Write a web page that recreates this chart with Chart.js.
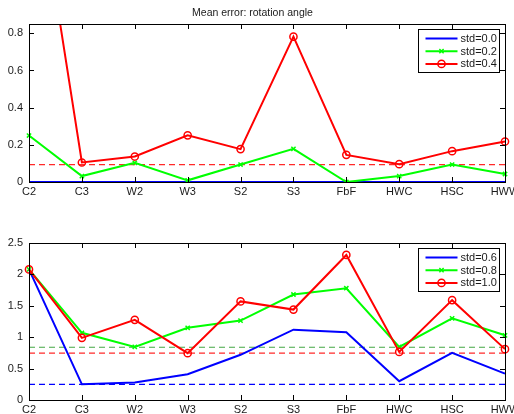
<!DOCTYPE html>
<html>
<head>
<meta charset="utf-8">
<script src="https://cdn.jsdelivr.net/npm/chart.js@4.4.1/dist/chart.umd.min.js"></script>
<style>
  body { margin: 0; background: #fff; }
  #wrap { position: relative; width: 514px; height: 414px; }
  canvas { position: absolute; left: 0; }
  #topChart { top: 0; }
  #bottomChart { top: 207px; }
</style>
</head>
<body>
<div id="wrap">
  <canvas id="topChart" width="514" height="207"></canvas>
  <canvas id="bottomChart" width="514" height="207"></canvas>
</div>
<script>
// === data ===
const categories = ["C2", "C3", "W2", "W3", "S2", "S3", "FbF", "HWC", "HSC", "HWW"];

// top panel: std = 0.0 / 0.2 / 0.4
const topStd00 = [0, 0, 0, 0, 0, 0, 0, 0, 0, 0];
const topStd02 = [0.25, 0.032, 0.103, 0.009, 0.094, 0.178, 0.0, 0.032, 0.094, 0.043];
const topStd04 = [1.92, 0.105, 0.137, 0.251, 0.177, 0.782, 0.146, 0.096, 0.166, 0.218];
const topRef = [0, null, 0.094];       // dashed reference levels per series

// bottom panel: std = 0.6 / 0.8 / 1.0
const bottomStd06 = [2.08, 0.25, 0.28, 0.41, 0.72, 1.12, 1.08, 0.30, 0.75, 0.42];
const bottomStd08 = [2.08, 1.07, 0.845, 1.15, 1.265, 1.68, 1.78, 0.845, 1.30, 1.03];
const bottomStd10 = [2.08, 0.99, 1.276, 0.745, 1.57, 1.44, 2.31, 0.766, 1.59, 0.81];
const bottomRef = [0.25, 0.84, 0.745];

const topTicks = [0, 0.2, 0.4, 0.6, 0.8];
const bottomTicks = [0, 0.5, 1, 1.5, 2, 2.5];

// === styles ===
const FONT = "'Liberation Sans', Arial, Helvetica, sans-serif";
const TEXT = "#1a1a1a";
const seriesStyle = [
  { color: "#0000ff", refColor: "#0000ff", marker: false },
  { color: "#00ff00", refColor: "#44a844", marker: "crossRot" },
  { color: "#ff0000", refColor: "#ff2a2a", marker: "circle" },
];

function buildDatasets(labels, series, refs) {
  const sets = series.map((data, i) => {
    const st = seriesStyle[i];
    return {
      label: labels[i],
      data,
      borderColor: st.color,
      backgroundColor: st.color,
      borderWidth: 2,
      pointStyle: st.marker || "circle",
      pointRadius: st.marker === "circle" ? 3.6 : (st.marker ? 3 : 0),
      pointBorderWidth: 1.5,
      pointBackgroundColor: "rgba(0,0,0,0)",
      pointBorderColor: st.color,
      order: 3 - i,
      tension: 0,
    };
  });
  refs.forEach((level, i) => {
    if (level === null) return;
    sets.push({
      label: "",
      isRef: true,
      data: categories.map(() => level),
      borderColor: seriesStyle[i].refColor,
      borderWidth: 1.2,
      borderDash: [6, 4],
      pointRadius: 0,
      order: 10 + i,
    });
  });
  return sets;
}

// MATLAB-ish box with inward ticks + inset legend
const matlabAxes = {
  id: "matlabAxes",
  afterDatasetsDraw(chart) {
    const { ctx, chartArea: a, scales: { x, y } } = chart;
    ctx.save();
    ctx.strokeStyle = "#000";
    ctx.lineWidth = 1;
    ctx.beginPath();
    x.ticks.forEach((t, i) => {
      const px = Math.round(x.getPixelForTick(i)) + 0.5;
      ctx.moveTo(px, a.bottom); ctx.lineTo(px, a.bottom - 5);
      ctx.moveTo(px, a.top); ctx.lineTo(px, a.top + 5);
    });
    y.ticks.forEach((t, i) => {
      const py = Math.round(y.getPixelForTick(i)) + 0.5;
      ctx.moveTo(a.left, py); ctx.lineTo(a.left + 5, py);
      ctx.moveTo(a.right, py); ctx.lineTo(a.right - 5, py);
    });
    ctx.stroke();
    ctx.strokeRect(Math.round(a.left) + 0.5, Math.round(a.top) + 0.5,
      Math.round(a.right - a.left), Math.round(a.bottom - a.top));

    // legend
    const boxW = 81, boxH = 43;
    const bx = Math.round(a.right - 6 - boxW) + 0.5;
    const by = Math.round(a.top + 5) + 0.5;
    ctx.fillStyle = "#fff";
    ctx.fillRect(bx, by, boxW, boxH);
    ctx.strokeStyle = "#000";
    ctx.strokeRect(bx, by, boxW, boxH);
    const items = chart.data.datasets.filter(d => !d.isRef);
    ctx.font = "11px " + FONT;
    ctx.textBaseline = "middle";
    items.forEach((d, i) => {
      const ry = by + 9 + i * 12.7;
      ctx.strokeStyle = d.borderColor;
      ctx.lineWidth = 2;
      ctx.beginPath();
      ctx.moveTo(bx + 7, ry); ctx.lineTo(bx + 39, ry);
      ctx.stroke();
      if (d.pointRadius > 0) {
        ctx.lineWidth = 1.5;
        ctx.fillStyle = "rgba(0,0,0,0)";
        ctx.strokeStyle = d.pointBorderColor;
        Chart.helpers.drawPoint(ctx, {
          pointStyle: d.pointStyle, radius: d.pointRadius, borderWidth: 1.5, rotation: 0
        }, bx + 23, ry);
      }
      ctx.fillStyle = TEXT;
      ctx.fillText(d.label, bx + 42, ry + 0.5);
    });
    ctx.restore();
  }
};

function makeChart(id, datasets, yMax, yStep, opts) {
  return new Chart(document.getElementById(id), {
    type: "line",
    data: { labels: categories, datasets },
    plugins: [matlabAxes],
    options: {
      responsive: false,
      animation: false,
      layout: { padding: { left: 0, right: 9, top: opts.padTop, bottom: 0 } },
      plugins: {
        legend: { display: false },
        tooltip: { enabled: false },
        title: {
          display: !!opts.title,
          text: opts.title || "",
          color: TEXT,
          font: { family: FONT, size: 10.5, weight: "normal" },
          padding: { top: 7, bottom: 4.4 },
        },
      },
      scales: {
        x: {
          type: "category",
          offset: false,
          grid: { display: false, drawTicks: false },
          border: { display: false },
          ticks: {
            autoSkip: false, maxRotation: 0, padding: 3, color: TEXT,
            font: { family: FONT, size: 11 },
          },
          afterFit(scale) {
            scale.height = opts.xHeight;
            scale.paddingLeft = 0;
            scale.paddingRight = 0;
          },
        },
        y: {
          min: 0,
          max: yMax,
          grid: { display: false, drawTicks: false },
          border: { display: false },
          ticks: {
            stepSize: yStep, includeBounds: false, padding: 6, color: TEXT,
            font: { family: FONT, size: 11 },
            callback: v => String(+v.toFixed(2)),
          },
          afterFit(scale) { scale.width = 29; },
        },
      },
    },
  });
}

makeChart("topChart",
  buildDatasets(["std=0.0", "std=0.2", "std=0.4"], [topStd00, topStd02, topStd04], topRef),
  0.85, topTicks[1] - topTicks[0],
  { title: "Mean error: rotation angle", padTop: 0, xHeight: 25 });

makeChart("bottomChart",
  buildDatasets(["std=0.6", "std=0.8", "std=1.0"], [bottomStd06, bottomStd08, bottomStd10], bottomRef),
  bottomTicks[bottomTicks.length - 1], bottomTicks[1] - bottomTicks[0],
  { padTop: 36, xHeight: 14 });
</script>
</body>
</html>
